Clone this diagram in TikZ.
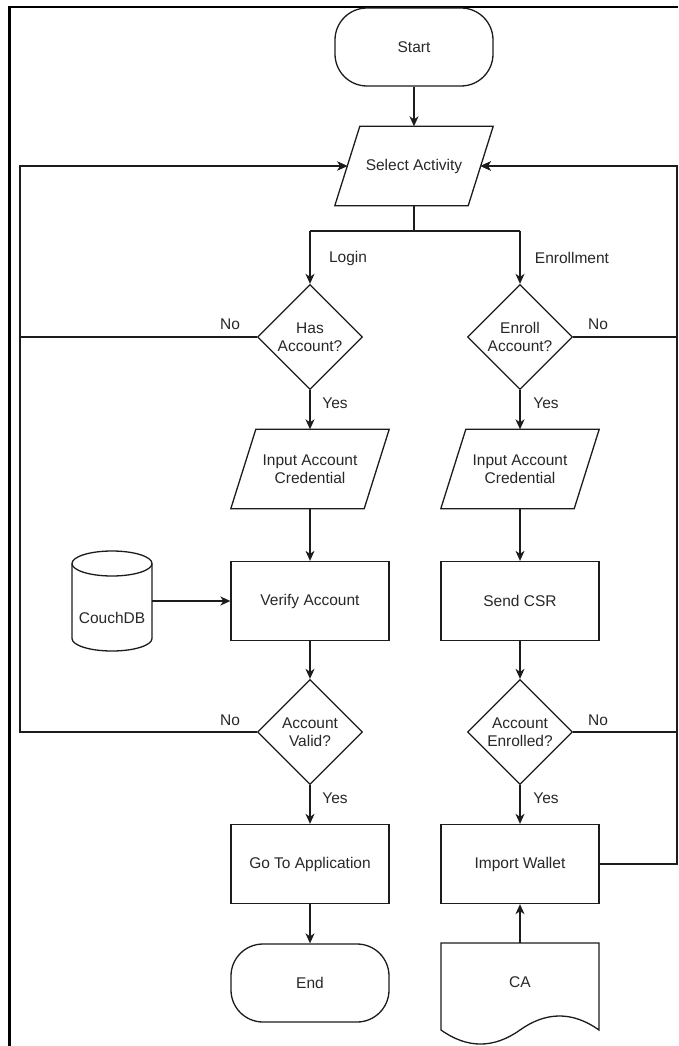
\documentclass[tikz,border=0pt]{standalone}
\usepackage{fontspec}
\setmainfont{Liberation Sans}
\usetikzlibrary{arrows.meta,shapes.geometric}
\definecolor{ink}{RGB}{28,28,28}
\definecolor{txt}{RGB}{40,40,40}
% slanted outline around a (borderless) input/output node
\newcommand\paraedge[1]{%
  \draw[shapeline] ([xshift=-12.5pt]#1.south west) -- ([xshift=12.5pt]#1.north west)
    -- ([xshift=12.5pt]#1.north east) -- ([xshift=-12.5pt]#1.south east) -- cycle;}
\begin{document}
\begin{tikzpicture}[x=1pt,y=-1pt,
  every node/.style={font=\fontsize{15.5}{18.5}\selectfont, text=txt},
  shapeline/.style={draw=ink, line width=1.3pt},
  box/.style={shapeline, rectangle, minimum width=158pt, minimum height=79pt, inner sep=0pt, align=center},
  term/.style={box, rounded corners=32pt, minimum height=78pt},
  ioslot/.style={rectangle, minimum width=133pt, minimum height=79pt, inner sep=0pt, align=center},
  decision/.style={shapeline, diamond, minimum width=105pt, minimum height=105pt, inner sep=0pt, aspect=1},
  flow/.style={draw=ink, line width=1.3pt, -{Stealth[length=10pt,width=9pt,inset=3pt]}},
  link/.style={draw=ink, line width=1.3pt},
  tag/.style={inner sep=0pt}
]
\useasboundingbox (0,0) rectangle (678,1046);
\fill[white] (0,0) rectangle (678,1046);
% frame
\draw[line width=2.4pt, black] (9.5,1046) -- (9.5,7) -- (678,7);

% nodes
\node[term] (start) at (414,47) {Start};
\node[ioslot] (sel) at (414,166) {Select Activity};
\paraedge{sel}
\coordinate (split) at (414,231);
\coordinate (splitL) at (310,231);
\coordinate (splitR) at (520,231);
\coordinate (railL) at (20,166);
\coordinate (railR) at (677,166);

\node[decision, label={[align=center]center:Has\\Account?}] (has) at (310,337) {};
\node[decision, label={[align=center]center:Enroll\\Account?}] (enr) at (520,337) {};

\node[ioslot] (credL) at (310,469) {Input Account\\Credential};
\paraedge{credL}
\node[ioslot] (credR) at (520,469) {Input Account\\Credential};
\paraedge{credR}

\node[box] (verify) at (310,601) {Verify Account};
\node[box] (csr) at (520,601) {Send CSR};

% database cylinder
\node[rectangle, minimum width=80pt, minimum height=100pt, inner sep=0pt] (db) at (112,601) {};
\draw[shapeline] (72,563.5) -- (72,638.5) arc[start angle=180,end angle=360,x radius=40pt,y radius=12.5pt]
  -- (152,563.5) arc[start angle=0,end angle=180,x radius=40pt,y radius=12.5pt] -- cycle;
\draw[shapeline] (72,563.5) arc[start angle=180,end angle=360,x radius=40pt,y radius=12.5pt];
\node (dblabel) at (112,618) {CouchDB};

\node[decision, label={[align=center]center:Account\\Valid?}] (valid) at (310,732) {};
\node[decision, label={[align=center]center:Account\\Enrolled?}] (enrolled) at (520,732) {};

\node[box] (goto) at (310,864) {Go To Application};
\node[box] (wallet) at (520,864) {Import Wallet};
\node[term] (end) at (310,983) {End};

% document shape
\node[rectangle, minimum width=158pt, minimum height=102pt, inner sep=0pt] (ca) at (520,994) {};
\draw[shapeline] (441,943) -- (599,943) -- (599,1030)
  .. controls (572.7,1011.3) and (546.3,1011.3) .. (520,1030)
  .. controls (493.7,1048.7) and (467.3,1048.7) .. (441,1030) -- cycle;
\node (calabel) at (520,982) {CA};

% connectors
\draw[flow] (start) -- (sel);
\draw[link] (sel) -- (split);
\draw[link] (splitL) -- (splitR);
\draw[flow] (splitL) -- (has);
\draw[flow] (splitR) -- (enr);

\draw[flow] (has) -- (credL);
\draw[flow] (credL) -- (verify);
\draw[flow] (verify) -- (valid);
\draw[flow] (valid) -- (goto);
\draw[flow] (goto) -- (end);
\draw[flow] (db) -- (verify);

\draw[flow] (enr) -- (credR);
\draw[flow] (credR) -- (csr);
\draw[flow] (csr) -- (enrolled);
\draw[flow] (enrolled) -- (wallet);
\draw[flow] (ca) -- (wallet);

% return paths to the activity selection
\draw[flow] (has.west) -| (railL) -- (sel.west);
\draw[flow] (valid.west) -| (railL) -- (sel.west);
\draw[flow] (enr.east) -| (railR) -- (sel.east);
\draw[flow] (enrolled.east) -| (railR) -- (sel.east);
\draw[flow] (wallet.east) -| (railR) -- (sel.east);

% edge labels
\node[tag] (tLogin) at (348,258) {Login};
\node[tag] (tEnroll) at (572,258) {Enrollment};
\node[tag] (tNo1) at (230,324) {No};
\node[tag] (tNo2) at (598,324) {No};
\node[tag] (tYes1) at (335,403) {Yes};
\node[tag] (tYes2) at (546,403) {Yes};
\node[tag] (tNo3) at (230,720) {No};
\node[tag] (tNo4) at (598,720) {No};
\node[tag] (tYes3) at (335,798) {Yes};
\node[tag] (tYes4) at (546,798) {Yes};
\end{tikzpicture}
\end{document}
